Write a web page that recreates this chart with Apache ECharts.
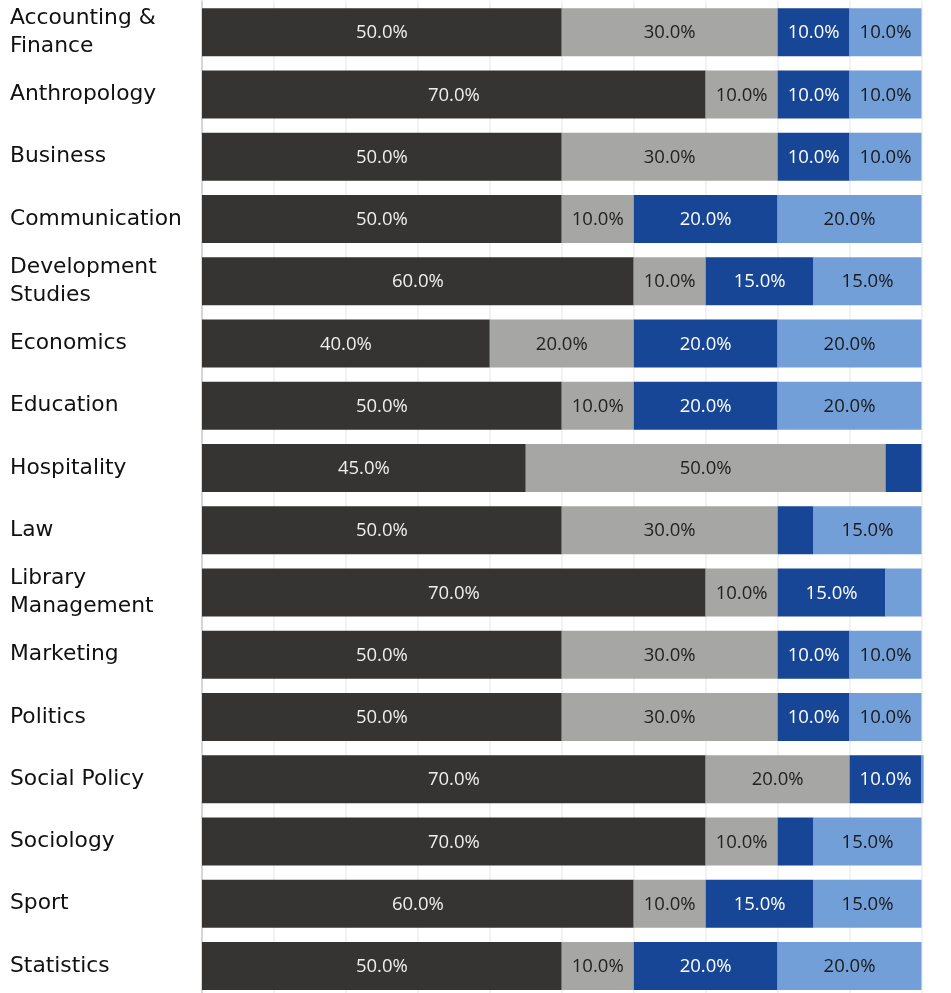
<!DOCTYPE html>
<html>
<head>
<meta charset="utf-8">
<script src="https://cdn.jsdelivr.net/npm/echarts@6/dist/echarts.min.js"></script>
<style>html,body{margin:0;padding:0;background:#fff}#c{width:951px;height:993px}</style>
</head>
<body>
<div id="c"></div>
<script>
const categories = ["Accounting & Finance","Anthropology","Business","Communication","Development Studies","Economics","Education","Hospitality","Law","Library Management","Marketing","Politics","Social Policy","Sociology","Sport","Statistics"];
const s1 = [50,70,50,50,60,40,50,45,50,70,50,50,70,70,60,50];
const s2 = [30,10,30,10,10,20,10,50,30,10,30,30,20,10,10,10];
const s3 = [10,10,10,20,15,20,20,5,5,15,10,10,10,5,15,20];
const s4 = [10,10,10,20,15,20,20,0.1,15,5,10,10,0.3,15,15,20];
const seriesNames = ["S1","S2","S3","S4"];
const colors = ["#353433","#a6a6a5","#174696","#739fd9"];
const labelColors = ["#eeeeee","#222222","#ffffff","#1a1a1a"];

const chart = echarts.init(document.getElementById('c'));
const data = [s1,s2,s3,s4];
chart.setOption({
  animation:false,
  grid:{left:202,right:29.5,top:1,bottom:-4,containLabel:false,outerBoundsMode:'none'},
  xAxis:{type:'value',min:0,max:100,interval:10,
    axisLabel:{show:false},axisLine:{show:false},axisTick:{show:false},
    splitLine:{show:true,lineStyle:{color:'#eeeeee',width:1.5}}},
  yAxis:{type:'category',data:categories,inverse:true,
    axisLine:{show:true,lineStyle:{color:'#cccccc',width:1.5}},
    axisTick:{show:false},
    axisLabel:{align:'left',margin:192,fontFamily:'DejaVu Sans',fontSize:21.8,color:'#111',
      width:186,overflow:'break',lineHeight:28,padding:[5,0,0,0]}},
  series:data.map((d,i)=>({
    name:seriesNames[i],type:'bar',stack:'t',barWidth:48,clip:false,
    data:d,itemStyle:{color:colors[i]},
    label:{show:true,position:'inside',offset:[0,1],fontFamily:'Open Sans',fontSize:18.5,color:labelColors[i],
      formatter:p=>p.value>=10?p.value.toFixed(1)+'%':''}
  }))
});
</script>
</body>
</html>
